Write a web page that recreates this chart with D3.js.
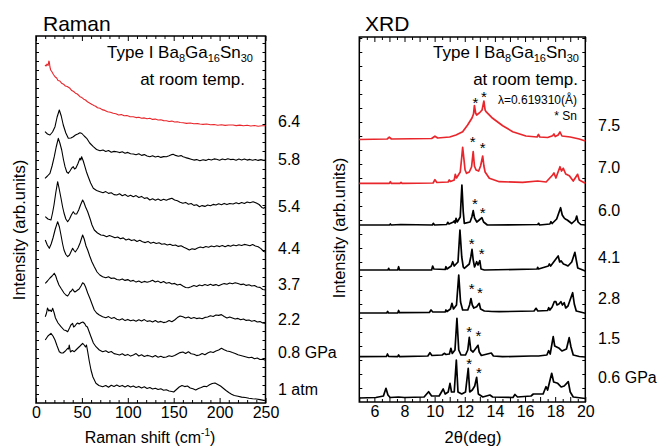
<!DOCTYPE html>
<html><head><meta charset="utf-8">
<script src="https://cdn.jsdelivr.net/npm/d3@7"></script>
<style>body{margin:0;background:#fff} text{font-family:Arial,"Liberation Sans",sans-serif;fill:#000}</style>
</head><body><svg id="c" width="665" height="448"></svg>
<script>
// ---------------- DATA ----------------
// Raman: [Raman shift (cm-1), intensity (arb.)]
const raman1atm = [[10.1,63],[13,67],[16.3,69.7],[18.5,67],[20.7,63],[23,57],[25.4,51.3],[27.5,50],[29.4,50],[32,52],[34.5,54.7],[35.5,54],[36.2,58],[37.5,51],[39.5,52.5],[41.7,51.3],[43.5,53],[45.7,55],[48,57],[50.8,59.7],[52.5,58],[53.9,56],[55,58],[56.3,51.3],[58,42],[59.9,33],[62,26],[65.3,19.7],[68.5,17.5],[72.6,16.3],[76,17.5],[79,15.8],[82,17.8],[85,16.5],[88,18],[91,16.6],[94,17.6],[97,16],[100,17.4],[103,15.9],[106,17],[109,15.5],[112,16.6],[115,15],[118,16.2],[121,14.6],[124,15.5],[127,14],[130,14.8],[133,13.5],[136,14.2],[139,12.8],[142,13.3],[145,12],[148,11.5],[150,11],[153,13.5],[156,16],[159,17.5],[162,16.4],[165,17],[168,15],[171,14.2],[174,13],[177,14.5],[180,15.5],[183,16.8],[186,16.4],[189,18.2],[192,19.5],[195,20],[198,18.5],[201,17],[204,14.8],[207,12.5],[210,10.5],[213,8.8],[216,7.5],[220,6.8],[224,5.9],[228,5.5],[232,4.8],[236,4.3],[240,4],[244,3.4],[248,2.6],[250,2.8]];
const raman08 = [[10.1,86.3],[11.5,90],[12.5,95],[14,92],[15.2,93],[16.8,91.5],[18.2,94.7],[19.8,90],[21.2,85],[24,80],[27.2,76.3],[30.5,73],[32.5,72.5],[34.5,71.3],[36.5,75],[38,78],[39.9,79.7],[41,76],[42.4,77],[44,79],[45.4,80],[47,79],[49,80.3],[51,81],[53,79.5],[54.4,77],[56,76],[58,71],[59.9,66.3],[62.5,60],[65.3,56.3],[69,53],[72.6,51.3],[76,52.2],[79,50.6],[82,51.5],[85,49.4],[88,48.8],[91,48],[94,49.2],[97,47.5],[100,48.6],[103,46.9],[106,48],[109,49.4],[112,47],[115,48.2],[118,46.5],[121,47.6],[124,47],[127,46],[130,47.5],[133,45.8],[136,46.8],[139,45.6],[142,46],[145,47.3],[148,46.5],[151,47.5],[154,49],[157,50.4],[160,51],[163,49.5],[166,51.3],[169,49.2],[172,48.7],[175,47.4],[178,48],[181,49.5],[184,48.2],[187,50],[190,51.2],[193,50.5],[196,52],[199,53],[202,54.7],[205,53.2],[208,52],[211,51.5],[214,50.5],[217,49.6],[220,48.2],[223,47.5],[226,46.8],[229,46],[232,45.2],[235,45.8],[238,44.3],[241,45],[244,43.5],[247,43.8],[250,42.8]];
const raman22 = [[10.1,119.7],[12.5,122],[15.2,125],[17.5,127],[19.9,129.7],[21.5,127],[22.9,123],[25,118],[27.2,114.7],[30.5,110],[32.5,108],[34.5,107],[36,109],[37,111],[38.5,112],[39.9,114],[41.2,112],[42.4,111],[44,112],[45.4,113],[47,114],[49,117],[50.8,120.3],[52.5,119],[54,116],[56.3,110],[59,104],[61,99],[63.5,93],[66,90],[69,88],[72.6,86.3],[76,85.3],[79,86.4],[82,84.6],[85,85.6],[88,83.8],[91,83],[94,84.2],[97,82.4],[100,83.6],[103,82.2],[106,83],[109,81.8],[112,83.2],[115,82],[118,83.4],[121,81.6],[124,82.2],[127,81],[130,82.4],[133,80.8],[136,81.6],[139,80.4],[142,81],[145,82.5],[148,81.2],[151,83],[154,85.4],[157,87],[160,86.2],[163,85],[166,86],[169,84.6],[172,85.5],[175,84.4],[178,85],[181,84.2],[184,85.6],[187,86],[190,87.2],[193,86.5],[196,88],[199,87.6],[202,88.4],[205,86.5],[208,85],[211,86],[214,85],[217,84],[220,84.6],[223,83.2],[226,84],[229,82.6],[232,83],[235,81.8],[238,82.5],[241,81],[244,81.4],[247,80],[250,79.5]];
const raman37 = [[10.1,163],[12.3,158],[14.5,154.7],[16.5,159],[18.5,165],[21,174],[23.6,181.3],[25.5,176],[27.2,168],[29,159],[30.5,153],[32.5,148.5],[34.5,146.3],[36.5,148],[38.5,152],[39.9,154.7],[41.4,152.5],[42.8,151],[44.3,153],[45.7,155],[48,160],[50.8,168],[52.5,164],[54.5,157],[56.3,153],[58.5,147],[61,141],[63.5,136.3],[66.5,131],[69.5,128],[72.6,126.3],[76,125.2],[79,126.2],[82,124.6],[85,125],[88,123.5],[91,123],[94,124.1],[97,122.6],[100,123.4],[103,121.8],[106,122.6],[109,120.9],[112,121.9],[115,120.4],[118,121.6],[121,120.8],[124,121.5],[127,122.8],[130,121],[133,121.9],[136,120.2],[139,121.4],[142,119.8],[145,120.5],[148,119],[151,119.6],[154,118],[157,118.7],[160,117],[163,115.5],[166,115.2],[169,116.3],[172,117.5],[175,116.6],[178,118],[181,117.2],[184,118.4],[187,117.5],[190,118.8],[193,117.6],[196,118.4],[199,117.2],[202,118.5],[205,119.4],[208,118.7],[211,120],[214,119.2],[217,120.3],[220,119.5],[223,118.4],[226,118.9],[229,117.6],[232,118.2],[235,117],[238,117.5],[241,116],[244,115.6],[247,113.5],[250,113]];
const raman44 = [[10.1,186.3],[13,184],[16.3,183],[18,190],[19.6,198],[21.5,210],[23.6,221.3],[25.3,214],[27.2,205],[29,196],[30.5,190],[32.5,184],[34.5,181.3],[36.5,184],[38.5,188],[40.6,191.3],[42.4,189],[44.3,189],[46.5,193],[48.5,198],[50.8,203],[52,201],[54,196],[56.3,191.3],[59,184],[61,178],[63.5,173],[67,170],[70.7,168],[74,167.6],[77,166.2],[80,167.4],[83.5,166.3],[86,165.2],[89,166],[92,164.3],[95,165.1],[98,163],[101,164],[104,162.4],[107,163.3],[110,161.5],[113,162.7],[116,161.2],[119,160.4],[122,161.6],[125,159.8],[128,160.8],[131,159.5],[134,160.2],[137,158.7],[140,159.3],[143,158],[146,158.8],[149,157.5],[152,158],[155,156.6],[158,157.3],[161,155.8],[164,154.6],[167,153],[170,154.2],[173,153.6],[176,155],[179,156],[182,155.2],[185,156.5],[188,155.8],[191,157],[194,156.2],[197,157.2],[200,156.4],[203,157.4],[206,156.2],[209,157.6],[212,156.8],[215,158],[218,157.2],[221,158.3],[224,157.5],[227,158.6],[230,158],[233,157.2],[236,158.4],[239,157],[242,156.2],[245,154.4],[248,151.5],[250,151]];
const raman54 = [[9.8,224.7],[12.5,227],[15.2,229.7],[17.5,237],[19.9,246.3],[22,256],[24.3,264.7],[26,260],[28,253],[30,243],[31.6,236.3],[33.5,231],[35.2,229.7],[37,232],[39,235],[40.6,236.3],[42,234],[43.5,235],[45.5,239],[47.9,244.7],[48.8,243],[49.7,246.3],[51.5,242],[53.3,236.3],[55,231],[56.9,226.3],[59.5,220],[62.4,214.7],[66,212.5],[69.7,211.3],[73,210.2],[76,211.4],[79,209.6],[82,210.3],[85,208.4],[88,208],[91,209.2],[94,207.3],[97,208.5],[100,206.6],[103,207.8],[106,206.3],[109,207.4],[112,205.5],[115,206.6],[118,204.6],[121,205.2],[124,203],[127,204.2],[130,202.8],[133,204],[136,202.6],[139,203.8],[142,202.7],[145,203.9],[148,204.7],[151,203],[154,202.3],[157,200.8],[160,199.7],[163,200.6],[166,198.8],[169,199.5],[172,197.6],[175,198.2],[178,196.3],[181,197.4],[184,196.6],[187,198],[190,197.2],[193,198.6],[196,198],[199,199.2],[202,198.3],[205,199.6],[208,198.4],[211,199.5],[214.7,199],[218,200.3],[221,199.2],[224,200.5],[227,199.6],[230,201],[233,200.2],[236.5,201.3],[240,200],[243,198.5],[246,195.6],[248,194.7],[250,196]];
const raman58 = [[9.8,271.3],[12.5,269],[15.2,268],[18,271],[20.7,276.3],[23,286],[25.4,293],[27.5,287],[29.7,278],[32.5,270],[35.2,264.7],[38,265],[40.6,266.3],[43,268],[45.5,269],[47.9,270.3],[50,269.5],[52.5,267],[55.2,264.7],[58.5,260],[62.4,256.3],[66,253.5],[69.7,252.3],[73,253],[76,251.6],[79,252.5],[82,250.8],[85,251.6],[88,251.3],[91,250.4],[94,251.2],[97,249.8],[100,250.6],[103,249.2],[106,249],[109,248.2],[112,249.3],[115,247.6],[118,248.4],[121,247],[124,246.3],[127,247.2],[130,246],[133,246.8],[136,245.6],[139,246.4],[142,246.3],[145,247.2],[148,248.4],[149.4,248.7],[152,247.6],[155,246.8],[158,247.4],[160.3,246.3],[163,245.4],[166,244.6],[169,243.8],[172,242.9],[175,243.4],[178.5,242.3],[182,243.3],[185,242.6],[188,243.8],[191,243],[194,244.1],[196.7,243.7],[200,242.8],[203,244],[206,243.2],[209,244.3],[212,243.4],[214.7,243.7],[218,242.8],[221,243.9],[224,243],[227,244],[230,242.9],[233,243.6],[236,242.7],[239,243.5],[242,242.6],[245,243.4],[248,242.8],[250,243]];
const raman64 = [[9.8,338],[11,337],[12,339],[13.2,337.5],[14,342],[14.5,341],[15.2,336],[16,333],[17.5,331],[19,328.5],[20.7,326.3],[22.5,325],[24,322.5],[26,322],[28,319.7],[30,318.8],[32,317],[34,316.5],[37,314.7],[39,312.4],[41,311.5],[43,309.8],[45,309],[47.9,306.3],[50,305.4],[52,303.8],[54,303],[56,301.2],[58.8,299.7],[61,298.6],[63,297.5],[65,296.8],[67,295.3],[69.7,294.7],[72,293.4],[75,292.6],[78,291.2],[81,290.8],[84.1,289.7],[87,289.2],[90,288],[93,288.4],[96,287.3],[99,287.5],[102,286.4],[105.9,286.3],[109,285.4],[112,285.8],[115,284.8],[118,285.1],[121,284.2],[124,284.7],[127,283.6],[130,283.9],[133,283],[136,283.2],[139,282.4],[142.2,282.3],[145,281.5],[148,281.9],[151,281],[154,281.3],[157,280.5],[160.3,280.3],[164,279.6],[168,280],[172,279.2],[176,279.4],[178.5,279],[182,278.6],[186,279],[190,278.2],[194,278.5],[198,277.8],[202,278.3],[206,277.6],[210,278],[214.7,278],[218,277.4],[222,277.9],[226,277.2],[230,277.7],[234,277],[238,277.5],[242,276.8],[246,277.3],[250,277.3]];
const ramanSeries = [raman1atm, raman08, raman22, raman37, raman44, raman54, raman58, raman64];
const ramanLabels = ["1 atm","0.8 GPa","2.2","3.7","4.4","5.4","5.8","6.4"];
const ramanLabelLevel = [14,51,84,119,155,197,244,282];

// XRD: [2theta (deg), intensity (arb.)]
const xrd06 = [[5,4],[6.1,4.5],[6.6,6],[6.77,13.7],[6.9,7],[7.05,4.5],[7.6,5],[8.0,4.5],[9.3,5],[9.6,10.3],[9.8,6],[10.3,6],[10.57,13],[10.7,8],[10.9,10],[11.02,18.7],[11.12,10],[11.3,10],[11.44,42],[11.55,10],[11.8,8],[12.05,10],[12.23,33.7],[12.33,10],[12.5,12],[12.66,16],[12.79,24.7],[12.9,8],[13.2,5],[13.67,7],[13.85,5],[15.2,4.5],[15.33,7.5],[15.5,5],[16.4,6],[16.55,8],[17.2,8],[17.39,15.3],[17.5,12],[17.77,28.7],[17.9,20],[18.17,18.7],[18.4,15],[18.6,16],[18.87,20.3],[19.0,10],[19.2,5],[20,3.5]];
const xrd15 = [[5,45.3],[6.8,45.5],[6.87,48],[6.95,45.5],[7.55,45.3],[7.61,47],[7.68,45.3],[9.55,46],[9.69,49.3],[9.82,46.5],[10.5,47],[10.64,48.7],[10.75,47.5],[10.98,48],[11.08,53.7],[11.17,48.5],[11.35,52],[11.48,83.7],[11.6,52],[11.75,47],[12.05,47],[12.2,52],[12.3,64.7],[12.4,52],[12.55,50],[12.7,53],[12.88,56.7],[12.96,50],[13.1,46.5],[13.76,49],[13.9,46],[14.5,45.3],[16.4,46],[16.9,46],[17.45,47],[17.57,51.3],[17.67,48],[17.87,65.3],[17.97,56],[18.1,55],[18.27,53.7],[18.45,51],[18.75,53],[18.93,64.3],[19.05,55],[19.2,47],[19.6,45.5],[20,45]];
const xrd28 = [[5,89],[6.82,89],[6.88,90.5],[6.94,89],[7.55,89],[7.61,91.5],[7.67,89.3],[9.65,89.5],[9.76,92],[9.88,90],[10.7,90],[10.75,92],[10.82,90.5],[11.05,93],[11.15,98.7],[11.25,93],[11.45,97],[11.6,127],[11.72,100],[11.86,92],[12.2,92],[12.32,97],[12.41,103.5],[12.5,97],[12.6,94],[12.79,95.3],[12.87,97],[12.96,98.7],[13.05,93],[13.3,91],[13.8,90.5],[14.29,90.3],[16.6,91],[16.73,93.7],[16.85,91],[17.5,91.5],[17.57,94.3],[17.65,92],[17.8,95],[17.94,100.3],[18.05,100.3],[18.12,97],[18.25,98],[18.38,100.3],[18.48,97],[18.6,99.3],[18.7,94],[18.85,96],[19.16,109.3],[19.27,98],[19.4,91],[20,88.7]];
const xrd41 = [[5,132],[6.9,132],[6.95,133.7],[7.0,132],[7.55,132],[7.61,135.3],[7.67,132],[9.8,132],[9.87,136],[9.95,133],[10.7,132.5],[10.75,135.3],[10.82,133],[11.1,136],[11.2,140.3],[11.3,136],[11.55,140],[11.68,172],[11.8,145],[11.9,135],[11.97,133.7],[12.3,138],[12.4,145],[12.48,152.7],[12.56,142],[12.65,135],[12.79,140.3],[12.88,137],[13.0,141.3],[13.08,133],[13.3,132],[16.8,133],[16.84,134.7],[16.9,133],[17.55,136],[17.61,138],[17.7,136],[17.9,140],[18.2,146],[18.3,140],[18.4,141],[18.55,138],[18.72,137],[18.85,136],[19.1,140],[19.31,149.7],[19.4,142],[19.5,134],[20,131]];
const xrd60 = [[5,177],[7.0,177],[7.06,178],[7.12,177],[7.75,177.5],[9.85,177],[9.91,178.7],[10,177],[10.8,177.5],[10.87,179.7],[10.95,178],[11.25,180],[11.3,181],[11.36,179],[11.42,183.7],[11.5,180],[11.7,185],[11.81,217],[11.9,190],[11.97,178.7],[12.35,180],[12.47,185],[12.56,191.3],[12.65,184],[12.8,180],[12.96,182],[13.14,184.3],[13.25,180],[13.5,177],[16.85,177.5],[16.9,178.7],[16.97,177],[17.65,178],[17.72,180.3],[17.8,178.5],[18.1,183],[18.36,194.3],[18.47,187],[18.6,184],[18.67,183],[18.8,182],[19.1,178.5],[19.35,182],[19.43,186],[19.52,180],[19.7,177.5],[20,177]];
const xrd70 = [[5,218.7],[7.0,218.7],[7.06,220.3],[7.12,218.7],[7.7,218.7],[7.77,219.7],[7.84,218.7],[9.9,219],[10.02,222.3],[10.15,219.5],[10.9,220],[10.97,222],[11.05,220.5],[11.3,222],[11.37,227.7],[11.45,224],[11.7,230],[11.8,245],[11.86,254.7],[11.93,245],[12.02,232],[12.12,228.7],[12.3,230],[12.45,235],[12.56,250.3],[12.64,236],[12.75,232],[12.92,231],[13.05,236],[13.19,246],[13.27,236],[13.35,230],[13.63,223.7],[14.29,220.3],[15.84,219.7],[16.84,221],[17.4,220],[17.83,227],[17.92,229],[18.05,224],[18.32,235.3],[18.42,231],[18.54,233.7],[18.7,228],[18.94,226.3],[19.2,221],[19.49,227.7],[19.6,222],[20,218.7]];
const xrd75 = [[5,262.5],[6.85,263],[6.99,264.8],[7.13,263],[9.8,263.5],[10.02,265.8],[10.2,264],[11.0,265],[11.42,267],[11.86,270.3],[12.19,277],[12.48,284],[12.58,288],[12.64,296.5],[12.72,289],[12.79,287],[13.01,289.7],[13.15,292],[13.27,301],[13.35,292],[13.41,290.3],[13.85,283.7],[14.52,276.3],[15.18,270.3],[16.06,266],[16.8,265],[16.89,267.5],[16.98,265],[17.5,264.5],[17.83,266.3],[17.92,268],[18.0,265.5],[18.2,267],[18.32,270],[18.45,266],[19.0,265],[19.6,263],[20,261]];
const xrdSeries = [xrd06, xrd15, xrd28, xrd41, xrd60, xrd70, xrd75];
const xrdLabels = ["0.6 GPa","1.5","2.8","4.1","6.0","7.0","7.5"];
const xrdLabelLevel = [25.3,63.7,103.7,145.3,192,235,277];
// Sn reflections marked with * : [2theta, level]
const snMarks = [[12.3,41.3],[12.94,33],[12.3,73.7],[12.9,69.3],[12.46,117],[13.0,112.7],[12.46,161.3],[13.12,152],[12.68,202],[13.19,193],[12.52,263.7],[13.19,257.7],[12.71,302.7],[13.27,309]];

const ramanTicksMajor = [0,50,100,150,200,250];
const xrdTicksLabeled = [6,8,10,12,14,16,18,20];
const redLabels = ["6.4","7.0","7.5"];

// ---------------- DRAW ----------------
const svg = d3.select("#c");
const RED = "#e8262b";
const rx = d3.scaleLinear().domain([0,250]).range([36,265.5]);
const ry = d3.scaleLinear().domain([0,367]).range([403,36]);
const xx = d3.scaleLinear().domain([5,20]).range([359.3,585.3]);
const xy = d3.scaleLinear().domain([0,365]).range([402,37]);

function frameAndTicks(x, y, major, minor, labeled, yMinor, fmt){
  const g = svg.append("g");
  const [x0,x1] = x.range(), [y0,y1] = y.range();
  const ax = (gen, tr, vals, size) => {
    const a = g.append("g").attr("transform", tr).call(gen.tickValues(vals).tickSize(size));
    a.select(".domain").remove();
    a.selectAll("line").attr("stroke","#000").attr("stroke-width",1);
    return a;
  };
  // bottom
  const b = ax(d3.axisBottom(x).tickFormat(d => labeled.includes(d) ? fmt(d) : "").tickPadding(4), `translate(0,${y0})`, major, -5);
  b.selectAll("text").attr("font-size",16).attr("font-family","Arial, 'Liberation Sans', sans-serif").attr("fill","#000");
  ax(d3.axisBottom(x).tickFormat(""), `translate(0,${y0})`, minor, -3);
  ax(d3.axisTop(x).tickFormat(""), `translate(0,${y1})`, major, -5);
  ax(d3.axisTop(x).tickFormat(""), `translate(0,${y1})`, minor, -3);
  ax(d3.axisLeft(y).tickFormat(""), `translate(${x0},0)`, yMinor, -3);
  ax(d3.axisRight(y).tickFormat(""), `translate(${x1},0)`, yMinor, -3);
  g.append("rect").attr("x",x0).attr("y",y1).attr("width",x1-x0).attr("height",y0-y1)
    .attr("fill","none").attr("stroke","#000").attr("stroke-width",1.5);
}

// Raman panel
const rMinor = d3.range(10,250,10).filter(v => v % 50 !== 0);
frameAndTicks(rx, ry, ramanTicksMajor, rMinor, ramanTicksMajor, d3.range(9,367,9), d3.format("d"));
const rLine = d3.line().x(d => rx(d[0])).y(d => ry(d[1]));
ramanSeries.forEach((s,i) => {
  svg.append("path").attr("d", rLine(s)).attr("fill","none")
    .attr("stroke", redLabels.includes(ramanLabels[i]) ? RED : "#000")
    .attr("stroke-width",1.1).attr("stroke-linejoin","round");
});
ramanLabels.forEach((t,i) => {
  svg.append("text").attr("x",278).attr("y",ry(ramanLabelLevel[i])+6).attr("font-size",16).text(t);
});

// XRD panel
const xMajor = d3.range(5,20.01,1);
const xMinor = d3.range(5.5,20,1);
frameAndTicks(xx, xy, xMajor, xMinor, xrdTicksLabeled, d3.range(14,365,14), d3.format("d"));
const xLine = d3.line().x(d => xx(d[0])).y(d => xy(d[1]));
xrdSeries.forEach((s,i) => {
  svg.append("path").attr("d", xLine(s)).attr("fill","none")
    .attr("stroke", redLabels.includes(xrdLabels[i]) ? RED : "#000")
    .attr("stroke-width",1.7).attr("stroke-linejoin","round");
});
xrdLabels.forEach((t,i) => {
  svg.append("text").attr("x",598).attr("y",xy(xrdLabelLevel[i])+6).attr("font-size",16).text(t);
});
snMarks.forEach(m => {
  svg.append("text").attr("x",xx(m[0])).attr("y",xy(m[1])+8.5).attr("text-anchor","middle")
    .attr("font-size",15).text("*");
});

// Titles and annotations
svg.append("text").attr("x",43).attr("y",31).attr("font-size",21).text("Raman");
svg.append("text").attr("x",365).attr("y",31).attr("font-size",21).text("XRD");

function formula(xr, yb){
  const t = svg.append("text").attr("x",xr).attr("y",yb).attr("text-anchor","end").attr("font-size",17);
  t.append("tspan").text("Type I Ba");
  t.append("tspan").attr("font-size",11).attr("dy",4).text("8");
  t.append("tspan").attr("dy",-4).text("Ga");
  t.append("tspan").attr("font-size",11).attr("dy",4).text("16");
  t.append("tspan").attr("dy",-4).text("Sn");
  t.append("tspan").attr("font-size",11).attr("dy",4).text("30");
}
formula(253, 58);
svg.append("text").attr("x",245).attr("y",85).attr("text-anchor","end").attr("font-size",17).text("at room temp.");
formula(579, 57.5);
svg.append("text").attr("x",578).attr("y",85).attr("text-anchor","end").attr("font-size",17).text("at room temp.");
svg.append("text").attr("x",577).attr("y",104).attr("text-anchor","end").attr("font-size",12).text("λ=0.619310(Å)");
svg.append("text").attr("x",577).attr("y",119.5).attr("text-anchor","end").attr("font-size",12).text("* Sn");

// Axis titles
const rt = svg.append("text").attr("x",150).attr("y",443).attr("text-anchor","middle").attr("font-size",16);
rt.append("tspan").text("Raman shift (cm");
rt.append("tspan").attr("font-size",10).attr("dy",-7).text("-1");
rt.append("tspan").attr("dy",7).text(")");
svg.append("text").attr("x",473).attr("y",443).attr("text-anchor","middle").attr("font-size",16.5).text("2θ(deg)");
svg.append("text").attr("transform","translate(25,230) rotate(-90)").attr("text-anchor","middle").attr("font-size",16.5).text("Intensity (arb.units)");
svg.append("text").attr("transform","translate(345,228) rotate(-90)").attr("text-anchor","middle").attr("font-size",16.5).text("Intensity (arb.units)");
</script></body></html>
